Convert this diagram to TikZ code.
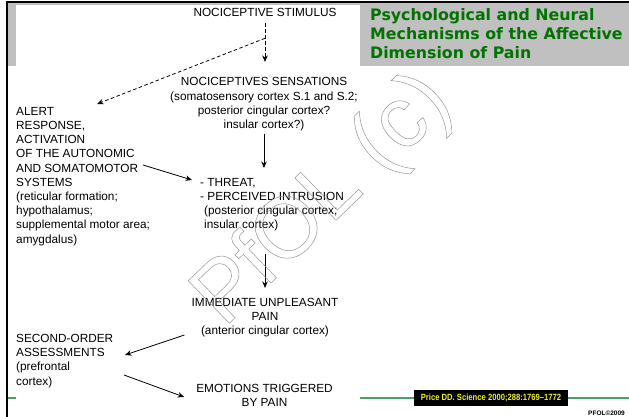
\documentclass[tikz,border=0pt]{standalone}
\usepackage{fontspec}
\setmainfont{Liberation Sans}
\newfontfamily\titlefont{DejaVu Sans}
\newfontfamily\citefont{Liberation Sans}[FakeStretch=0.85]
\usetikzlibrary{arrows.meta}
\definecolor{slidegray}{RGB}{192,192,192}
\definecolor{titlegreen}{RGB}{0,115,0}
\definecolor{rulegreen}{RGB}{70,160,110}
\definecolor{citeyellow}{RGB}{240,240,40}
\definecolor{markgray}{RGB}{150,150,150}

\begin{document}
\begin{tikzpicture}[
    x=1pt, y=-1pt,
    font=\fontsize{11.8}{14.2}\selectfont,
    lbl/.style={inner sep=0pt, align=center},
    lbl-left/.style={inner sep=0pt, align=left},
    >={Stealth[length=6.5pt,width=5.5pt]},
    arr/.style={->, line width=0.8pt},
    dash-arr/.style={->, line width=0.8pt, dash pattern=on 3.5pt off 2.5pt},
]
\useasboundingbox (0,0) rectangle (629,417);

% --- Slide frame, title band, rule ---
\fill[slidegray] (8,3) rectangle (629,66.5);
\draw[rulegreen, line width=1.8pt] (8,398) -- (629,398);
\fill[white] (16,5) rectangle (360,417);
\draw[line width=2.4pt] (7,417) -- (7,2) -- (629,2);

\node[lbl-left, anchor=north west, text=titlegreen,
      font=\titlefont\bfseries\fontsize{15.8}{19}\selectfont] (title) at (370,8)
    {Psychological and Neural\\Mechanisms of the Affective\\Dimension of Pain};

% --- Diagram texts ---
\node[lbl, anchor=base] (stim) at (265,17) {NOCICEPTIVE STIMULUS};
\node[lbl, anchor=north] (sens) at (264,77.5)
    {NOCICEPTIVES SENSATIONS\\(somatosensory cortex S.1 and S.2;\\posterior cingular cortex?\\insular cortex?)};
\node[lbl-left, anchor=north west] (alert) at (16,107)
    {ALERT\\RESPONSE,\\ACTIVATION\\OF THE AUTONOMIC\\AND SOMATOMOTOR\\SYSTEMS\\(reticular formation;\\hypothalamus;\\supplemental motor area;\\amygdalus)};
\node[lbl-left, anchor=north west] (threat) at (200,178)
    {- THREAT,\\- PERCEIVED INTRUSION\\\hspace*{4pt}(posterior cingular cortex;\\\hspace*{4pt}insular cortex)};
\node[lbl, anchor=north] (pain) at (265,298)
    {IMMEDIATE UNPLEASANT\\PAIN\\(anterior cingular cortex)};
\node[lbl-left, anchor=north west] (second) at (16,334)
    {SECOND-ORDER\\ASSESSMENTS\\(prefrontal\\cortex)};
\node[lbl, anchor=north] (emotions) at (264.5,384)
    {EMOTIONS TRIGGERED\\BY PAIN};

% --- Arrows ---
\draw[dash-arr, shorten <=6pt, shorten >=15.5pt] (stim.south) -- (stim.south |- sens.north);
\coordinate (fork) at ([yshift=-21pt]stim.south);
\draw[dash-arr] (fork) -- ([xshift=81pt,yshift=3pt]alert.north west);
\draw[arr, shorten <=2.5pt, shorten >=10pt] (sens.south) -- (sens.south |- threat.north);
\draw[arr] ([xshift=127pt,yshift=-58pt]alert.north west) -- ([xshift=-8pt,yshift=-2pt]threat.north west);
\draw[arr, shorten <=22.5pt, shorten >=10pt] (pain.north |- threat.south) -- (pain.north);
\draw[arr] ([xshift=-7pt,yshift=2.5pt]pain.south west) -- ([xshift=109pt,yshift=-21pt]second.north west);
\draw[arr] ([xshift=108pt,yshift=-41pt]second.north west) -- ([xshift=-12pt,yshift=-13pt]emotions.north west);

% --- Citation and mark ---
\node[fill=black, text=citeyellow, minimum width=154pt, minimum height=16pt, inner sep=0pt,
      font=\citefont\bfseries\fontsize{9}{10}\selectfont] (cite) at (491,398)
    {Price DD. Science 2000;288:1769–1772};
\node[anchor=base west, inner sep=0pt, font=\bfseries\fontsize{6.5}{7}\selectfont] (pfol) at (588,415.5) {PFOL©2009};

\node[rotate=44, inner sep=0pt, text=markgray, font=\fontsize{86}{86}\selectfont] (mark) at (324,201)
    {\special{pdf:literal direct 1 Tr 0.5 w}PfOL (c)\special{pdf:literal direct 0 Tr}};

\end{tikzpicture}
\end{document}
